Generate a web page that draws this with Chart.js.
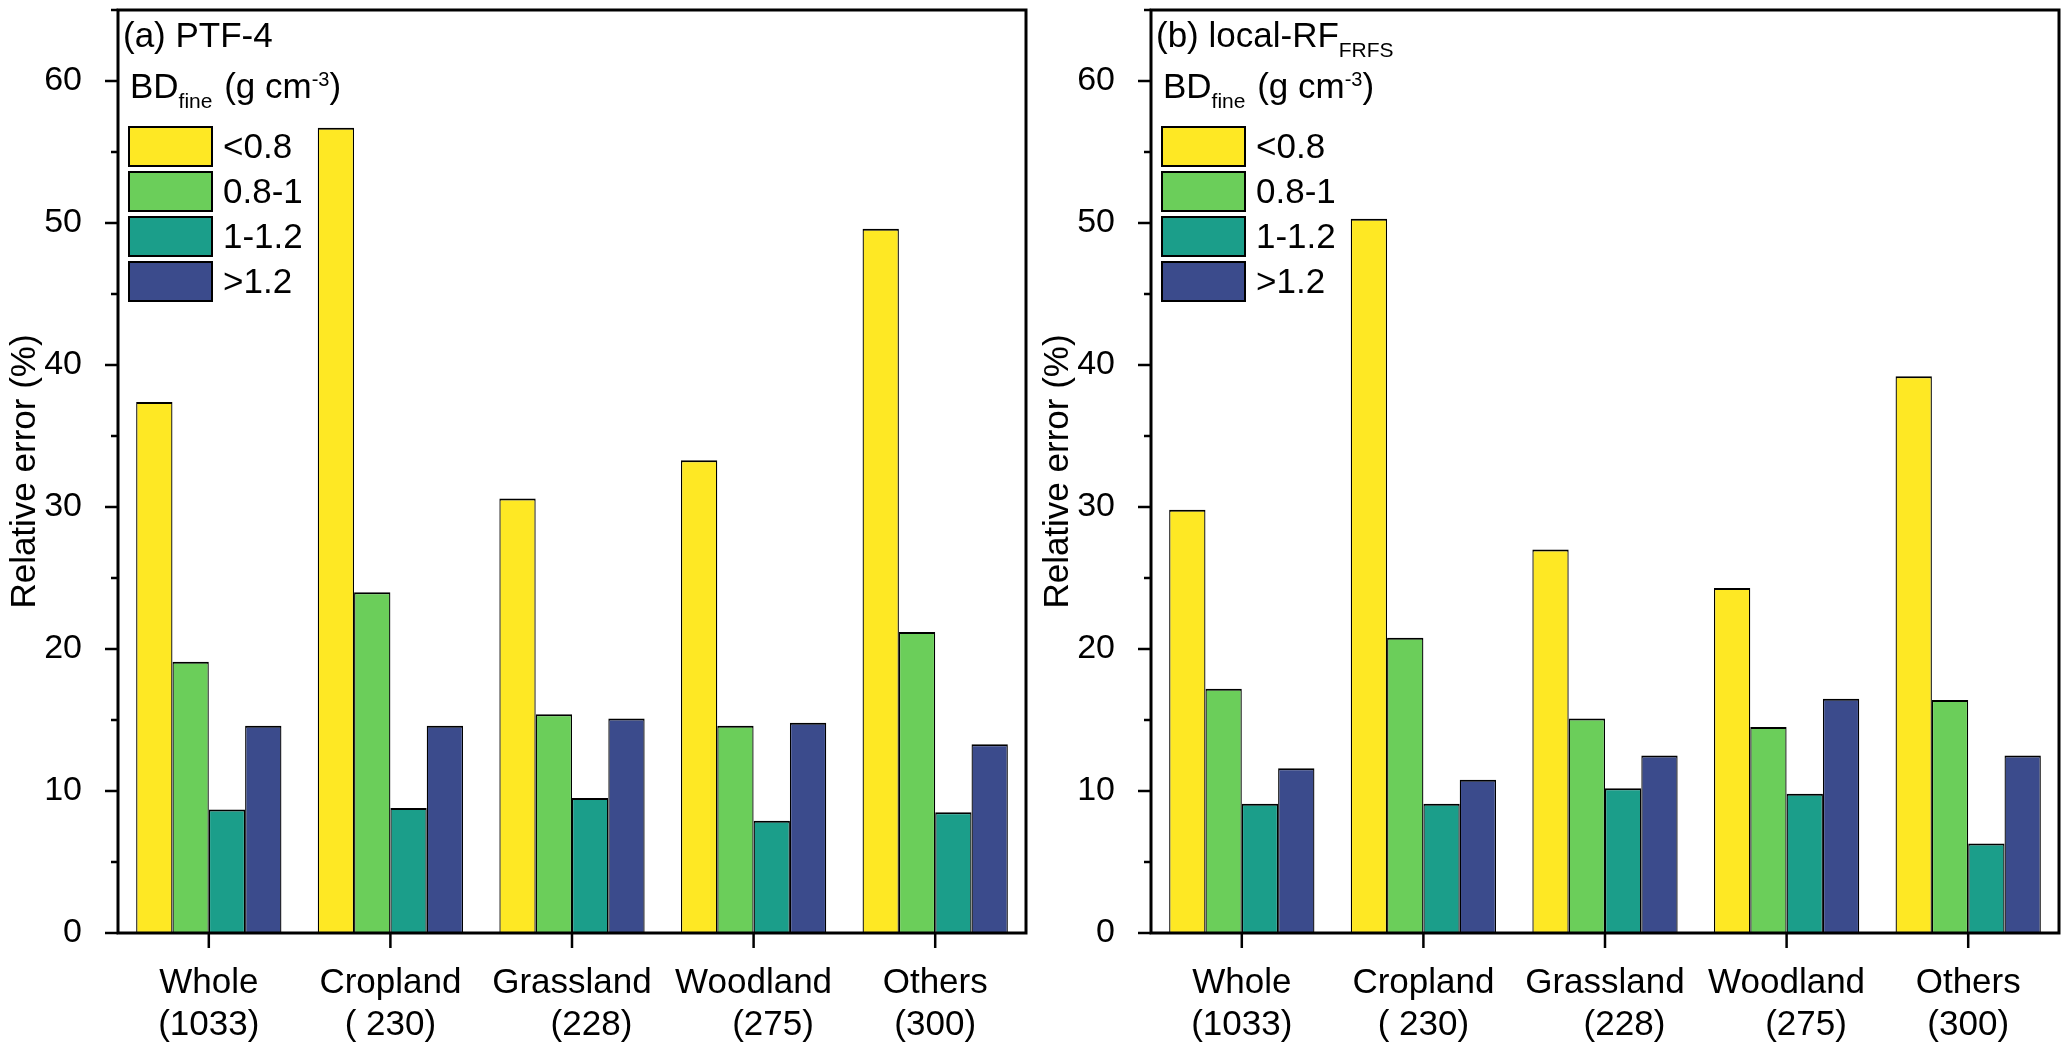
<!DOCTYPE html>
<html><head><meta charset="utf-8">
<script src="https://cdn.jsdelivr.net/npm/chart.js@4.4.1/dist/chart.umd.min.js"></script>
<style>
html,body{margin:0;padding:0;background:#fff;overflow:hidden;}
#wrap{position:relative;width:2067px;height:1043px;background:#fff;}
.panel{position:absolute;top:0;height:1043px;}
</style></head><body>
<div id="wrap">
<div class="panel" style="left:0;width:1033px"><canvas id="c1"></canvas></div>
<div class="panel" style="left:1033px;width:1034px"><canvas id="c2"></canvas></div>
</div>
<script>
// ---- data ----
const categories = [['Whole','(1033)'], ['Cropland','( 230)'], ['Grassland','    (228)'], ['Woodland','    (275)'], ['Others','(300)']];
const seriesLabels = ['<0.8', '0.8-1', '1-1.2', '>1.2'];
const seriesColors = ['#FEE824', '#6BCE5A', '#1B9E8A', '#3B4B8C'];

const ptf4_lt08 = [37.4, 56.7, 30.6, 33.3, 49.6];
const ptf4_08_1 = [19.1, 24.0, 15.4, 14.6, 21.2];
const ptf4_1_12 = [8.7, 8.8, 9.5, 7.9, 8.5];
const ptf4_gt12 = [14.6, 14.6, 15.1, 14.8, 13.3];

const rf_lt08 = [29.8, 50.3, 27.0, 24.3, 39.2];
const rf_08_1 = [17.2, 20.8, 15.1, 14.5, 16.4];
const rf_1_12 = [9.1, 9.1, 10.2, 9.8, 6.3];
const rf_gt12 = [11.6, 10.8, 12.5, 16.5, 12.5];

const yMin = 0, yMax = 65, yMajorStep = 10, yMinorStep = 5;
const yTitle = 'Relative error (%)';
const titleA = [{t:'(a) PTF-4'}];
const titleB = [{t:'(b) local-RF'}, {t:'FRFS', sub:true}];
const legendHeader = [{t:'BD'}, {t:'fine', sub:true}, {t:' (g cm'}, {t:'-3', sup:true}, {t:')'}];

const FONT = "'Liberation Sans', Arial, sans-serif";

function drawRich(ctx, segs, x, y, size) {
  ctx.textBaseline = 'alphabetic';
  ctx.textAlign = 'left';
  for (const s of segs) {
    let fs = size, dy = 0;
    if (s.sub) { fs = Math.round(size * 0.6); dy = 10; }
    if (s.sup) { fs = Math.round(size * 0.57); dy = -12; }
    ctx.font = fs + 'px ' + FONT;
    ctx.fillText(s.t, x, y + dy);
    x += ctx.measureText(s.t).width + (s.sub ? 2 : 0);
  }
}

function makeDecor(title) {
  return {
    id: 'decor',
    afterDraw(chart) {
      const ctx = chart.ctx, a = chart.chartArea;
      const ys = chart.scales.y, xs = chart.scales.x;
      ctx.save();
      ctx.strokeStyle = '#000';
      ctx.fillStyle = '#000';
      // frame
      ctx.lineWidth = 3;
      ctx.strokeRect(a.left, a.top, a.right - a.left, a.bottom - a.top);
      // y ticks (major/minor, outward)
      ctx.lineWidth = 2.5;
      for (let v = yMin; v <= yMax; v += yMinorStep) {
        const y = ys.getPixelForValue(v);
        const len = (v % yMajorStep === 0) ? 13 : 7;
        ctx.beginPath(); ctx.moveTo(a.left - len, y); ctx.lineTo(a.left, y); ctx.stroke();
      }
      // x ticks (outward)
      for (let i = 0; i < categories.length; i++) {
        const x = xs.getPixelForTick(i);
        ctx.beginPath(); ctx.moveTo(x, a.bottom); ctx.lineTo(x, a.bottom + 15); ctx.stroke();
      }
      // panel title
      drawRich(ctx, title, a.left + 5, a.top + 37, 35);
      // legend header
      drawRich(ctx, legendHeader, a.left + 12, a.top + 88, 35);
      // legend items
      chart.data.datasets.forEach((ds, i) => {
        const bx = a.left + 11, by = a.top + 117 + i * 45;
        ctx.fillStyle = ds.backgroundColor;
        ctx.fillRect(bx, by, 83, 39);
        ctx.lineWidth = 2;
        ctx.strokeStyle = '#000';
        ctx.strokeRect(bx, by, 83, 39);
        ctx.fillStyle = '#000';
        ctx.font = '35px ' + FONT;
        ctx.textBaseline = 'middle';
        ctx.textAlign = 'left';
        ctx.fillText(ds.label, a.left + 105, by + 21);
      });
      ctx.restore();
    }
  };
}

function makeChart(id, series, title, padRight) {
  const datasets = series.map((vals, i) => ({
    label: seriesLabels[i],
    data: vals,
    backgroundColor: seriesColors[i],
    borderColor: '#000',
    borderWidth: {top: 2, left: 1.3, right: 1.3, bottom: 0},
    borderSkipped: false,
    categoryPercentage: 0.8,
    barPercentage: 1.0
  }));
  return new Chart(document.getElementById(id), {
    type: 'bar',
    data: { labels: categories, datasets },
    options: {
      responsive: true,
      maintainAspectRatio: false,
      animation: false,
      layout: { padding: { top: 10, right: padRight, left: 0, bottom: 0 } },
      plugins: { legend: { display: false }, tooltip: { enabled: false } },
      scales: {
        x: {
          grid: { display: false },
          border: { display: false },
          ticks: { color: '#000', font: { family: FONT, size: 35 }, padding: 21, maxRotation: 0, autoSkip: false },
          afterFit(s) { s.height = 110; s.paddingLeft = 0; s.paddingRight = 0; }
        },
        y: {
          min: yMin, max: yMax,
          grid: { display: false },
          border: { display: false },
          ticks: {
            stepSize: yMinorStep, autoSkip: false, padding: 28, color: '#000',
            font: { family: FONT, size: 34 },
            callback: v => (v % yMajorStep === 0 ? v : '')
          },
          title: { display: true, text: yTitle, color: '#000', font: { family: FONT, size: 35 }, padding: { top: 4, bottom: 0 } },
          afterFit(s) { s.width = 118; s.paddingTop = 0; s.paddingBottom = 0; }
        }
      }
    },
    plugins: [makeDecor(title)]
  });
}

makeChart('c1', [ptf4_lt08, ptf4_08_1, ptf4_1_12, ptf4_gt12], titleA, 7);
makeChart('c2', [rf_lt08, rf_08_1, rf_1_12, rf_gt12], titleB, 8);
</script>
</body></html>
